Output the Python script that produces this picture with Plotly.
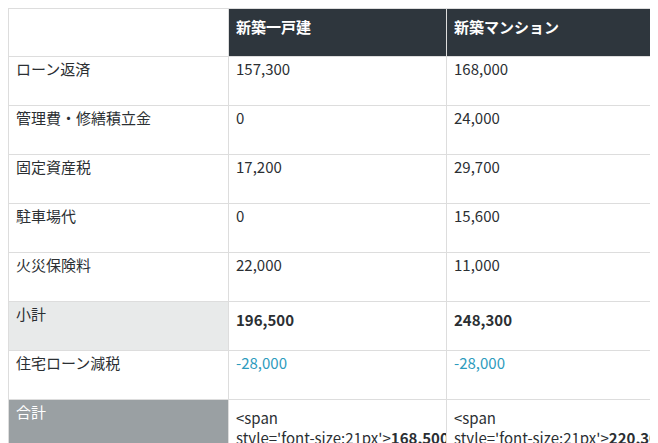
import plotly.graph_objects as go

headers = ["", "新築一戸建", "新築マンション"]
items = ["ローン返済", "管理費・修繕積立金", "固定資産税", "駐車場代", "火災保険料", "小計", "住宅ローン減税", "合計"]
house = ["157,300", "0", "17,200", "0", "22,000", "196,500", "-28,000", "168,500"]
mansion = ["168,000", "24,000", "29,700", "15,600", "11,000", "248,300", "-28,000", "220,300"]

def fmt(col):
    out = []
    for i, v in enumerate(col):
        if i == 5:
            out.append(f"<b>{v}</b>")
        elif i == 7:
            out.append(f"<span style='font-size:21px'><b>{v}</b></span>")
        else:
            out.append(v)
    return out

dark = "#2b2f33"
teal = "#2d9bbd"
label_fill = ["white"] * 5 + ["#e8eaea", "white", "#9aa0a3"]
label_color = [dark] * 7 + ["white"]
val_color = [dark] * 6 + [teal, dark]

fig = go.Figure(go.Table(
    columnwidth=[220, 218, 220],
    header=dict(
        values=[f"<b>{h}</b>" for h in headers],
        fill_color=["white", "#2e363d", "#2e363d"],
        line_color="#dddddd",
        font=dict(color="white", size=15, family="Noto Sans CJK JP"),
        align="left", height=48,
    ),
    cells=dict(
        values=[items, fmt(house), fmt(mansion)],
        fill_color=[label_fill, ["white"] * 8, ["white"] * 8],
        line_color="#dddddd",
        font=dict(color=[label_color, val_color, val_color],
                  size=15, family="Noto Sans CJK JP"),
        align="left", height=49,
    ),
))
fig.update_layout(width=658, height=443, margin=dict(l=0, r=0, t=0, b=0),
                  paper_bgcolor="white")
fig.write_html("out.html")
